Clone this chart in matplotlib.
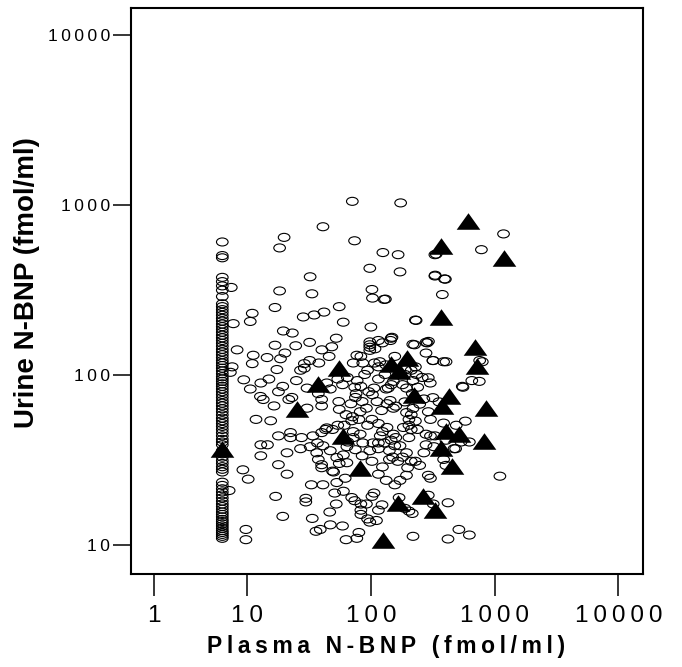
import numpy as np
import matplotlib
matplotlib.use("Agg")
import matplotlib.pyplot as plt
from matplotlib.path import Path

# open ellipses (plasma, urine)
circ_x = [70.8, 174, 41, 19.9, 18.3, 73.8, 125, 166, 98, 172,
          1180, 782, 329, 329, 393, 378, 32.3, 18.3, 33.4, 16.8,
          11, 10.6, 7.1, 6.75, 28.4, 34.8, 41.8, 55.5, 59.8, 100,
          102, 103, 128, 229, 292, 225, 146, 115, 108, 98,
          98, 98, 98, 52.5, 32, 19.6, 23.2, 16.8, 20.2, 24.7,
          40.2, 48.3, 7.8, 11.2, 11, 14.5, 18.6, 17.4, 29, 32,
          38, 46, 64.5, 72, 86, 83, 94, 115, 130, 115,
          138, 106, 83, 75, 74, 76, 69, 55, 55.5, 40,
          40, 30.5, 23, 21.7, 29, 12.9, 15, 9.2, 10.6, 12.8,
          13.5, 11.8, 15.5, 19.4, 17.9, 6.9, 6.6, 131, 232, 337,
          331, 400, 148, 218, 285, 318, 405, 795, 752, 548,
          302, 260, 77, 124, 144, 156, 279, 317, 212, 188,
          180, 146, 133, 89, 77.5, 59, 54, 44, 47, 37.6,
          27, 25, 30.5, 16.5, 14.6, 279,
          17.9, 22.4, 22.4, 27.5, 34, 37, 27, 32.3, 41, 47,
          12.9, 12.9, 21, 17.9, 21, 9, 10.2, 17, 19.4, 29.8,
          29.8, 33.6, 33, 41, 36, 39, 47, 59, 46.5, 52.5,
          63, 77, 80, 9.7, 9.7, 6.4, 40, 49, 53, 51,
          60, 62, 70, 74, 83, 83, 83, 92, 102, 106,
          115, 111, 94, 98, 123, 156, 169, 188, 203, 219,
          216, 291, 303, 319, 291, 420, 420, 514, 625, 1103,
          172, 194, 198, 165, 150, 141, 141, 124, 115, 133,
          102, 98, 85, 86, 75, 72, 72, 82, 64, 65,
          64, 60, 55.5, 53, 50, 40, 36.5, 37.6, 43, 115,
          119, 124, 135, 128, 146, 156, 159, 183, 203, 212,
          203, 194, 180, 212, 229, 248, 268, 279, 279, 303,
          323, 404, 484, 535, 490, 387, 654, 757, 387,
          555, 291, 234, 219, 239, 268, 248, 219, 212, 203,
          229, 194, 188, 159, 152, 143, 135, 122, 112, 103,
          96, 85, 92, 102, 115, 94, 80, 70, 82, 71,
          63, 61, 54, 49, 44, 40, 317, 355, 291, 303,
          238, 329, 387, 404, 470, 580, 625,
          107, 118, 132, 190, 229, 152, 194, 216, 115, 104, 152, 172]
circ_y = [1052, 1030, 746, 646, 560, 617, 526, 511, 425, 405,
          677, 547, 511, 383, 368, 298, 379, 313, 301, 250,
          231, 207, 201, 328, 220, 226, 235, 253, 205, 192,
          319, 284, 279, 211, 158, 151, 165, 160, 143, 151,
          140, 146, 157, 165, 156, 182, 177, 150, 135, 149,
          141, 147, 141, 131, 117, 127, 125, 108, 117, 122,
          118, 129, 97, 118, 118, 129, 107, 112, 101, 95,
          84, 84, 86, 74, 85, 78, 68, 70, 63, 72,
          66, 84, 74, 72, 110, 90, 95, 94, 83, 75,
          72, 55, 54, 86, 80, 112, 104, 280, 210, 515,
          387, 367, 167, 152, 155, 122, 120, 120, 92, 86,
          90, 97, 131, 155, 160, 129, 135, 122, 107, 101,
          88, 88, 83, 101, 93, 88, 95, 90, 83, 78,
          107, 93, 64, 66, 39, 156,
          44, 46, 43, 43, 44, 40, 37, 38, 38.5, 36,
          39, 33.6, 35, 29.8, 26.2, 27.8, 24.5, 19.4, 14.8, 18.9,
          18, 14.4, 22.7, 22.7, 12.1, 12.4, 13.2, 13, 15.7, 17.5,
          10.8, 11, 11.9, 12.4, 10.8, 21, 29.8, 27.3, 23.4, 20.3,
          20.8, 24.8, 19.1, 18.3, 17.5, 16.1, 15.2, 17.5, 19.4, 20.3,
          16.1, 14, 14.3, 13.7, 17.3, 22.7, 19.1, 16.5, 15.9, 11.3,
          15.4, 25.8, 24.8, 17.5, 19.7, 17.8, 10.9, 12.4, 11.5, 25.5,
          24.1, 25.8, 28.6, 31.2, 33, 36, 32, 28.9, 26.2, 24.1,
          31.2, 36, 33.6, 40, 36.5, 43, 46.6, 45, 38, 40.5,
          30.6, 34, 30.3, 32.8, 27, 28.6, 35, 32, 48, 40,
          44, 46.6, 49.3, 40, 41.5, 38.5, 43, 49.3, 50.8, 48,
          43, 35, 33, 31.2, 31.2, 29.5, 35, 39, 45, 44,
          38, 41.5, 37, 40.5, 50.8, 52.3, 93, 122, 120,
          85, 96.6, 101, 93, 85, 72.5, 67.6, 63.8, 58.6, 55,
          53.8, 60.3, 69.7, 65.8, 64, 71, 68, 62, 70, 76.8,
          80, 70, 64, 55, 52, 50.8, 55, 54, 61, 57,
          58.6, 50.8, 50.8, 48, 49, 46, 73.8, 69.7, 61, 55,
          48, 44, 32, 29.5, 37, 53.7, 40.5,
          118, 120, 115, 108, 112, 92, 84, 78, 37, 40, 45, 38.5]

# stack of ellipses at the plasma detection limit
col_x = 5.4
col_y = [11, 11.3, 11.6, 11.9, 12.2, 12.6, 13, 13.4, 13.8, 14.2, 14.7, 15.2,
         15.7, 16.3, 16.9, 17.5, 18.2, 19, 19.8, 20.6, 21.5, 22.5, 23.5,
         27, 28, 29, 30.3, 31.5, 33, 34.5, 36, 39, 40.5, 42, 44, 46, 48, 50,
         52, 54, 56, 58.5, 61, 63.5, 66, 68.5, 71, 74, 77, 80, 83, 86, 89, 92,
         95, 98, 102, 106, 110, 114, 118, 122, 127, 132, 137, 142, 148, 154,
         160, 166, 172, 179, 186, 193, 200, 208, 216, 225, 234, 243, 253, 263,
         290, 316, 335, 355, 376, 490, 505, 607]

# filled triangles
tri_x = [5.4, 25.3, 37.1, 55.6, 59.3, 81.9, 124.7, 146.6, 194.5, 169,
         225, 165, 262, 329, 366, 372, 375, 430, 403, 366,
         514, 455, 614, 1200, 698, 721, 855, 815]
tri_y = [37, 63, 88.6, 110, 44, 28.6, 10.8, 117, 127, 106,
         76.8, 17.8, 19.4, 16.1, 573, 220, 65.8, 75.9, 47.1, 37.5,
         45.3, 29.1, 809, 491, 147, 113, 64.6, 41]

xticks = [1, 10, 100, 1000, 10000]
yticks = [10, 100, 1000, 10000]

fam = ['Liberation Sans', 'DejaVu Sans']


def track(s):
    return '\u2009'.join(s)


# first decade on the x axis is drawn shorter than the others
def fwd(x):
    lx = np.log10(np.clip(x, 1e-6, None))
    return np.where(lx >= 1, lx, 1 + (lx - 1) * 0.75)


def inv(f):
    return np.where(f >= 1, 10.0 ** f, 10.0 ** (1 + (f - 1) / 0.75))


circ = Path.unit_circle()
ell = Path(circ.vertices * np.array([1.45, 1.0]), circ.codes)
tri = Path([(-1, -0.7), (1, -0.7), (0, 0.7), (-1, -0.7)],
           [Path.MOVETO, Path.LINETO, Path.LINETO, Path.CLOSEPOLY])

fig = plt.figure(figsize=(6.82, 6.67), dpi=100)
ax = fig.add_axes([0.192, 0.139, 0.751, 0.849])

ax.scatter([col_x] * len(col_y), col_y, marker=ell, s=70, facecolors='none',
           edgecolors='black', linewidths=0.8)
ax.scatter(circ_x, circ_y, marker=ell, s=70, facecolors='none',
           edgecolors='black', linewidths=0.8)
ax.scatter(tri_x, tri_y, marker=tri, s=290, color='black', linewidths=0)

ax.set_xscale('function', functions=(fwd, inv))
ax.set_yscale('log')
ax.set_xlim(0.56, 15850)
ax.set_ylim(6.76, 14400)

ax.set_xticks(xticks)
ax.set_xticklabels([track(str(t)) for t in xticks], family=fam, fontsize=17.5)
ax.set_yticks(yticks)
ax.set_yticklabels([track(str(t)) for t in yticks], family=fam, fontsize=12.5)
ax.minorticks_off()
ax.tick_params(axis='x', direction='out', length=16, width=1.1, pad=6)
ax.tick_params(axis='y', direction='out', length=13, width=1.1, pad=2)

for sp in ax.spines.values():
    sp.set_linewidth(1.5)

fig.text(0.566, 0.030, track('Plasma N-BNP (fmol/ml)'), ha='center', va='center',
         family=fam, fontsize=16.5, fontweight='bold')
fig.text(0.040, 0.576, 'Urine N-BNP (fmol/ml)', ha='center', va='center',
         rotation=90, family=fam, fontsize=20, fontweight='bold')

fig.savefig('out.png', dpi=100)
